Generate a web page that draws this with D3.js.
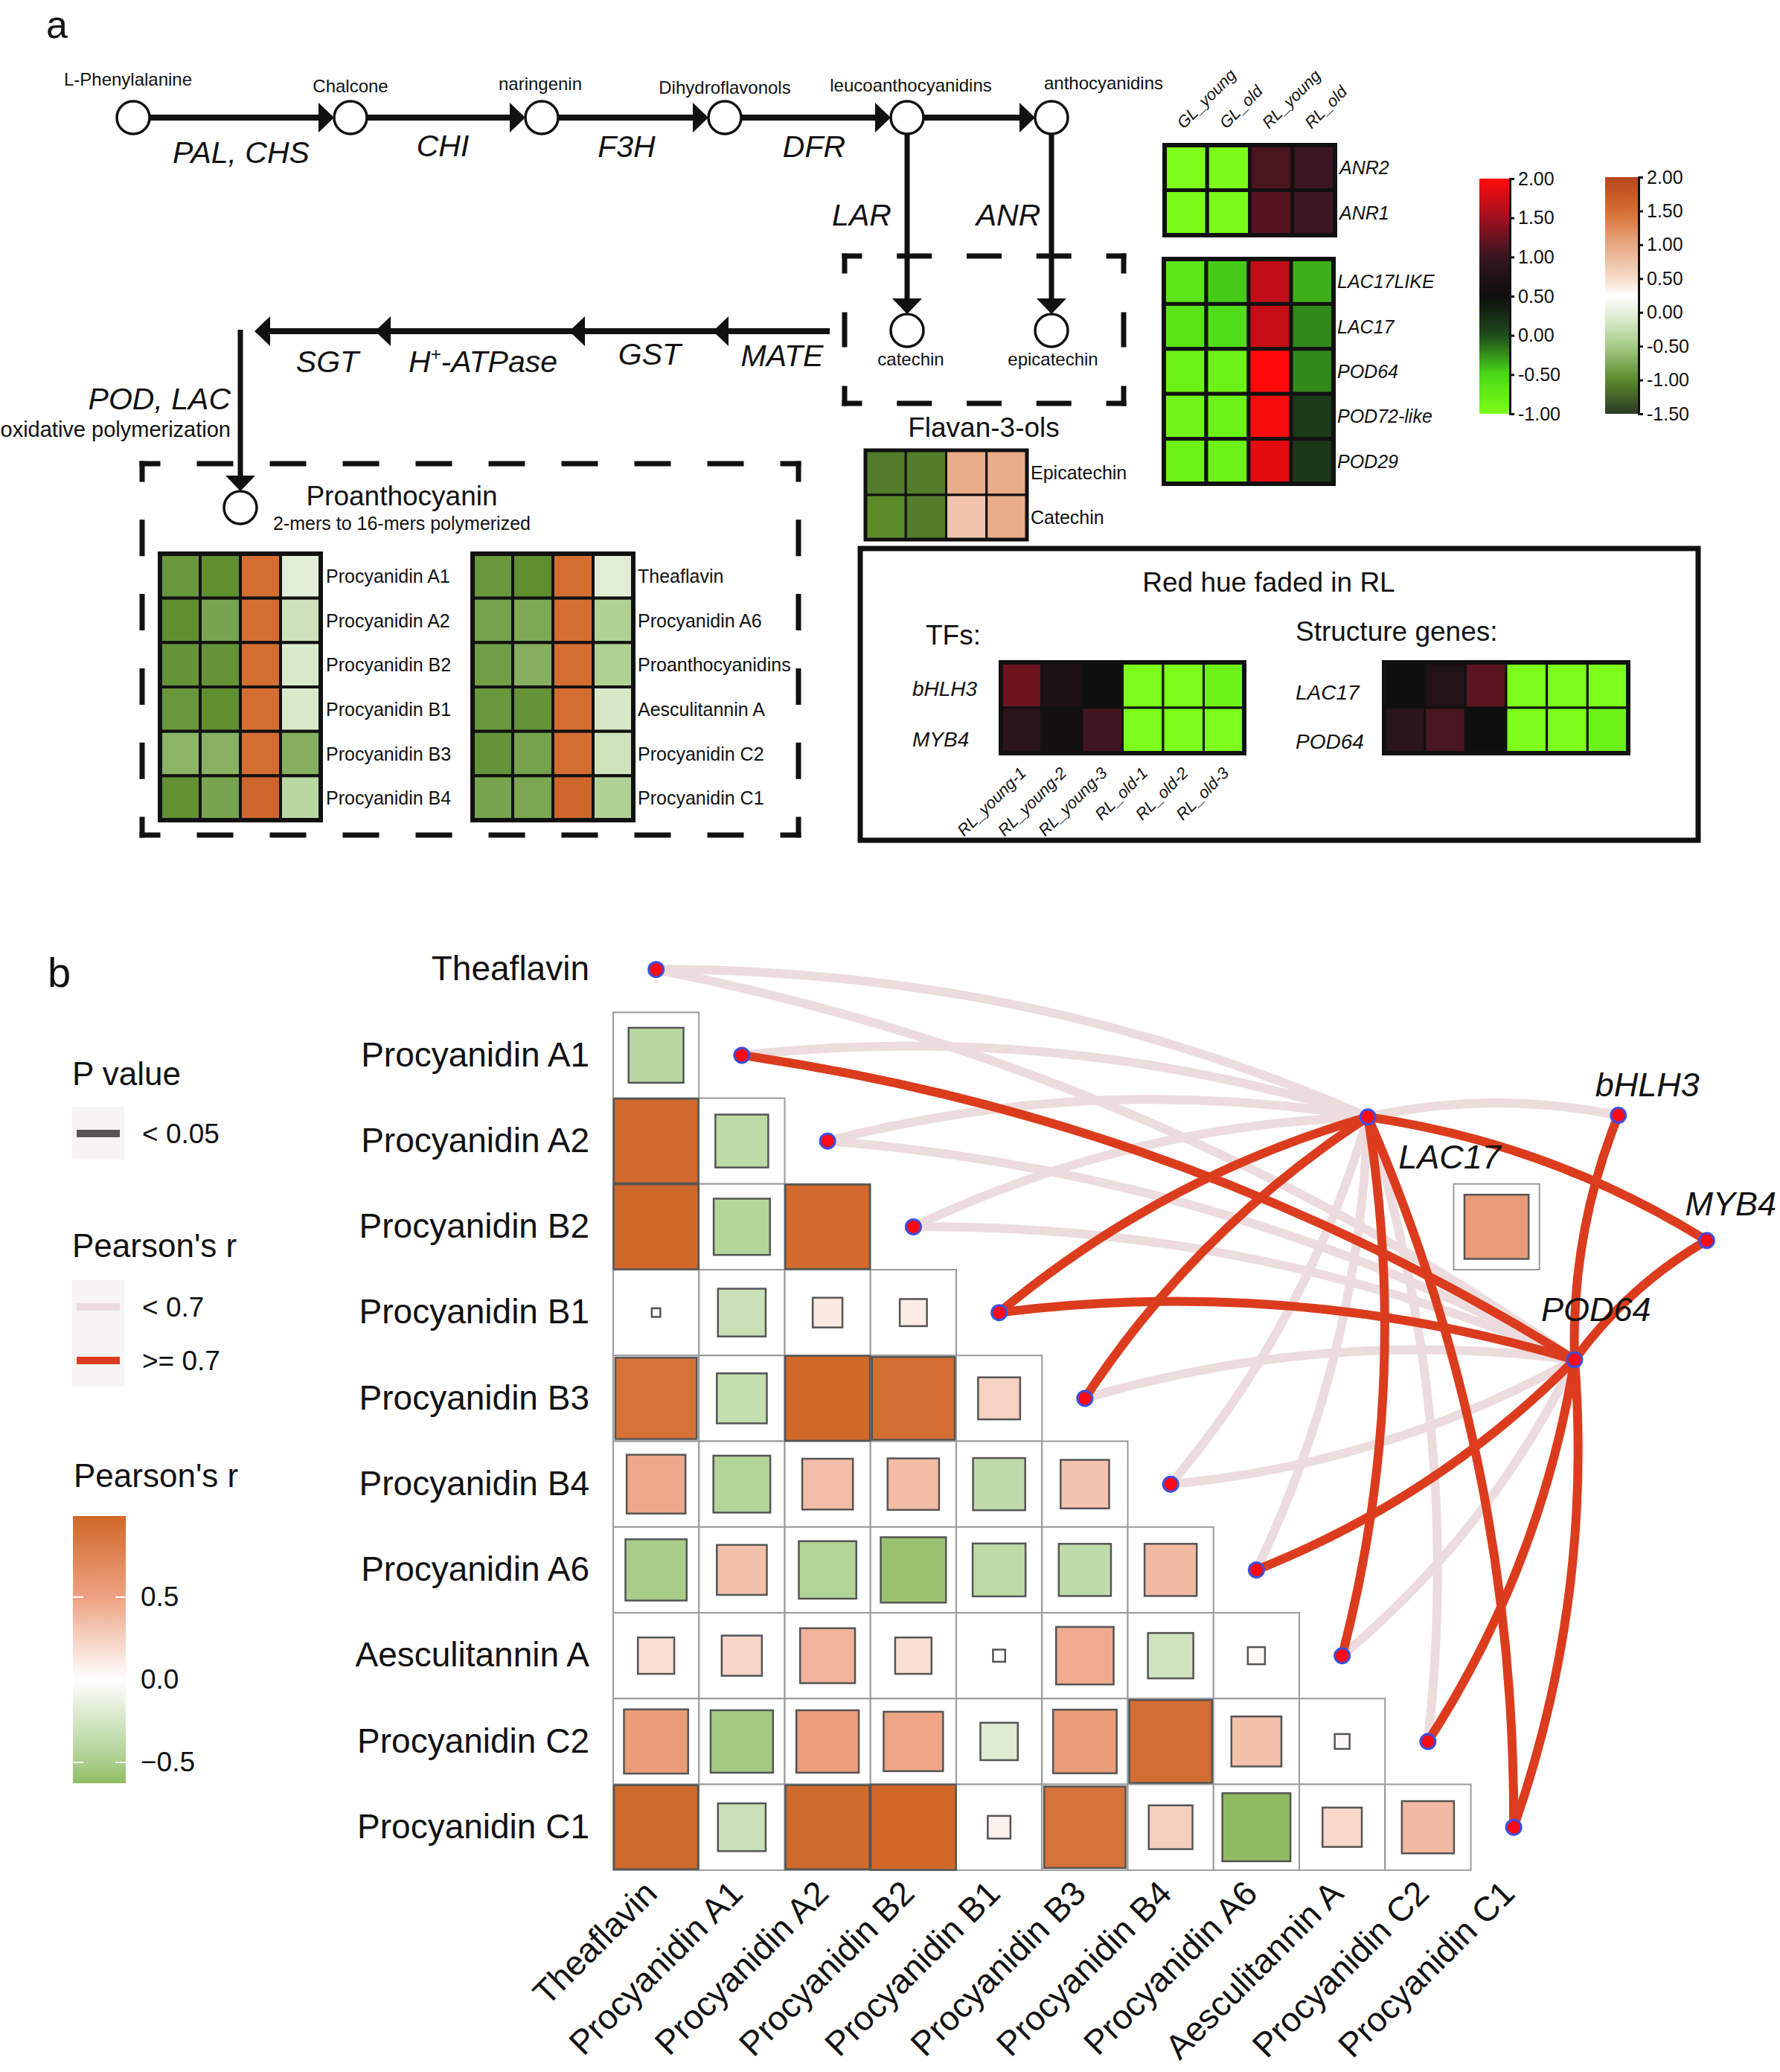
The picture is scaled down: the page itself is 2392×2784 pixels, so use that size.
<!DOCTYPE html>
<html><head><meta charset="utf-8">
<script src="https://cdn.jsdelivr.net/npm/d3@7"></script>
<style>body{margin:0;background:#fff}</style>
</head><body>
<script>
// ================= DATA =================
// --- panel a: pathway ---
const pathwayNodes = ["L-Phenylalanine","Chalcone","naringenin","Dihydroflavonols","leucoanthocyanidins","anthocyanidins"];
const pathwayEnzymes = ["PAL, CHS","CHI","F3H","DFR"];
const branchEnzymes = ["LAR","ANR"];
const flavanolNodes = ["catechin","epicatechin"];
const transportEnzymes = ["SGT","H+-ATPase","GST","MATE"];
const sampleCols = ["GL_young","GL_old","RL_young","RL_old"];
const anrGenes = ["ANR2","ANR1"];
const anrValues = [[-1.0,-0.98,1.10,1.02],[-0.98,-0.98,1.15,1.03]];
const podGenes = ["LAC17LIKE","LAC17","POD64","POD72-like","POD29"];
const podValues = [[-0.68,-0.45,1.67,-0.35],[-0.65,-0.55,1.70,-0.22],[-0.85,-0.85,2.0,-0.22],[-0.88,-0.85,1.95,0.13],[-0.85,-0.85,1.85,0.15]];
const flavanNames = ["Epicatechin","Catechin"];
const flavanValues = [[-1.10,-1.08,0.95,0.95],[-1.0,-1.08,0.72,0.95]];
const proLeftNames = ["Procyanidin A1","Procyanidin A2","Procyanidin B2","Procyanidin B1","Procyanidin B3","Procyanidin B4"];
const proLeftValues = [[-0.90,-0.97,1.5,-0.04],[-0.97,-0.80,1.5,-0.20],[-0.93,-0.93,1.5,-0.10],[-0.90,-0.97,1.5,-0.10],[-0.68,-0.70,1.5,-0.72],[-0.95,-0.80,1.6,-0.35]];
const proRightNames = ["Theaflavin","Procyanidin A6","Proanthocyanidins","Aesculitannin A","Procyanidin C2","Procyanidin C1"];
const proRightValues = [[-0.90,-0.97,1.5,-0.04],[-0.82,-0.76,1.5,-0.42],[-0.85,-0.72,1.5,-0.43],[-0.90,-0.93,1.5,-0.12],[-0.93,-0.82,1.5,-0.18],[-0.80,-0.78,1.6,-0.42]];
const rlSamples = ["RL_young-1","RL_young-2","RL_young-3","RL_old-1","RL_old-2","RL_old-3"];
const tfGenes = ["bHLH3","MYB4"];
const tfValues = [[1.26,0.70,0.50,-1,-1,-0.85],[0.87,0.57,1.05,-1,-1,-1]];
const structGenes = ["LAC17","POD64"];
const structValues = [[0.50,0.72,1.17,-1,-1,-1],[0.87,1.09,0.50,-1,-1,-0.85]];
const rgTicks = [2,1.5,1,0.5,0,-0.5,-1];
const ogTicks = [2,1.5,1,0.5,0,-0.5,-1,-1.5];

// --- panel b: correlation ---
const metabolites = ["Theaflavin","Procyanidin A1","Procyanidin A2","Procyanidin B2","Procyanidin B1","Procyanidin B3","Procyanidin B4","Procyanidin A6","Aesculitannin A","Procyanidin C2","Procyanidin C1"];
const corrLower = [
  [],
  [-0.41],
  [0.97,-0.38],
  [0.98,-0.43,0.97],
  [0.01,-0.31,0.12,0.10],
  [0.90,-0.34,0.98,0.93,0.24],
  [0.47,-0.44,0.35,0.36,-0.37,0.32],
  [-0.51,0.34,-0.45,-0.58,-0.38,-0.37,0.37],
  [0.18,0.22,0.41,0.18,0.02,0.45,-0.28,0.04],
  [0.56,-0.53,0.53,0.48,-0.19,0.55,0.93,0.34,0.03],
  [0.96,-0.31,0.96,0.99,0.07,0.90,0.26,-0.63,0.21,0.37]
];
const genes = ["LAC17","POD64"];
const lac17R = [0.45,0.50,0.40,0.45,0.82,0.78,0.50,0.55,0.80,0.60,0.85];
const pod64R = [0.50,0.80,0.45,0.50,0.85,0.60,0.50,0.78,0.60,0.82,0.88];
const tfNodes = ["bHLH3","MYB4"];
const tfLinks = [["bHLH3","LAC17",0.55],["MYB4","LAC17",0.80],["bHLH3","POD64",0.82],["MYB4","POD64",0.85]];
const lac17Pod64R = 0.56;
const corrTicks = [0.5,0,-0.5];
const corrRange = [-0.626,0.99];
const edgeClasses = ["< 0.7",">= 0.7"];
const pLabels = ["< 0.05"];

// ================= LAYOUT (positions only) =================
const LY = {
  topY:158, topX:[179,471,728,974,1219,1413], nodeLblX:[172,471,726,974,1224,1483], nodeLblY:[115,124,121,126,123,120],
  enzX:[324,595,842,1094], enzY:[219,210,211,211],
  branchX:[1219,1413], branchLblX:[1158,1355], catY:444,
  botY:445, botTips:[342,504,765,958], botRight:1115, botLblX:[440,649,873,1051], botLblY:[500,500,490,492],
  vertX:323, procY:682
};
const F = '"Liberation Sans", Arial, Helvetica, sans-serif';

// ================= SCALES =================
const rgScale = d3.scaleLinear().domain([-1,-0.5,0,0.5,1,1.5,2])
  .range(["#7cfc18","#4ada18","#1f4a1c","#0e0e0e","#361620","#a01020","#ff0a0a"]).clamp(true);
const ogScale = d3.scaleLinear().domain([-1.5,-1,-0.5,0,0.25,0.5,1,1.5,2])
  .range(["#2c3a28","#5a8a2a","#a6cc86","#e6f1dc","#ffffff","#f6dccb","#e8a882","#d46e30","#b8461e"]).clamp(true);
const corrScale = d3.scaleLinear().domain([-0.63,-0.5,0,0.5,1])
  .range(["#8fbb60","#a9cf8b","#ffffff","#eea282","#cf6626"]).clamp(true);

// ================= SVG =================
const svg = d3.select("body").append("svg").attr("width",2392).attr("height",2784).style("display","block");
svg.append("rect").attr("width",2392).attr("height",2784).attr("fill","#fff");
const defs = svg.append("defs");

function T(g,x,y,s,o={}){
  return g.append("text").attr("x",x).attr("y",y).text(s)
    .attr("font-family",F).attr("font-size",o.size||25)
    .attr("font-style",o.it?"italic":"normal")
    .attr("text-anchor",o.a||"start").attr("fill",o.fill||"#111");
}
function circle(g,x,y,r){ g.append("circle").attr("cx",x).attr("cy",y).attr("r",r).attr("fill","#fff").attr("stroke","#111").attr("stroke-width",3.5); }
function head(g,tipX,tipY,dir){
  const l=21,h=20; let p;
  if(dir==="r") p=`M${tipX},${tipY}L${tipX-l},${tipY-h}L${tipX-l},${tipY+h}Z`;
  if(dir==="l") p=`M${tipX},${tipY}L${tipX+l},${tipY-h}L${tipX+l},${tipY+h}Z`;
  if(dir==="d") p=`M${tipX},${tipY}L${tipX-h},${tipY-l}L${tipX+h},${tipY-l}Z`;
  g.append("path").attr("d",p).attr("fill","#111");
}
function line(g,x1,y1,x2,y2,w){ g.append("line").attr("x1",x1).attr("y1",y1).attr("x2",x2).attr("y2",y2).attr("stroke","#111").attr("stroke-width",w); }
function dashedBox(g,x0,y0,x1,y1,period,dash,sw){
  [[x0,y0,x1,y0],[x1,y0,x1,y1],[x1,y1,x0,y1],[x0,y1,x0,y0]].forEach(([a,b,c,d])=>{
    const L=Math.hypot(c-a,d-b), k=Math.max(1,Math.round(L/period)), p=L/k;
    g.append("line").attr("x1",a).attr("y1",b).attr("x2",c).attr("y2",d)
      .attr("stroke","#111").attr("stroke-width",sw).attr("stroke-linecap","square")
      .attr("stroke-dasharray",`${dash} ${p-dash}`).attr("stroke-dashoffset",dash/2);
  });
}
function heat(g,x0,y0,w,h,values,scale,sw,osw){
  const nr=values.length,nc=values[0].length;
  const xs=d3.scaleBand().domain(d3.range(nc)).range([x0,x0+w]);
  const ys=d3.scaleBand().domain(d3.range(nr)).range([y0,y0+h]);
  const cells=values.flatMap((row,i)=>row.map((v,j)=>({i,j,v})));
  g.append("g").selectAll("rect").data(cells).join("rect")
    .attr("x",d=>xs(d.j)).attr("y",d=>ys(d.i)).attr("width",xs.bandwidth()).attr("height",ys.bandwidth())
    .attr("fill",d=>scale(d.v)).attr("stroke","#111").attr("stroke-width",sw);
  g.append("rect").attr("x",x0).attr("y",y0).attr("width",w).attr("height",h).attr("fill","none").attr("stroke","#111").attr("stroke-width",osw);
  return {xs,ys};
}
function rowLabels(g,ys,names,x,o={}){
  names.forEach((n,i)=>T(g,x,ys(i)+ys.bandwidth()/2+(o.dy||9),n,{size:o.size||25,it:o.it,a:o.a}));
}
function gradient(id,scale,lo,hi){
  const gr=defs.append("linearGradient").attr("id",id).attr("x1",0).attr("y1",1).attr("x2",0).attr("y2",0);
  d3.range(41).forEach(k=>{const v=lo+(hi-lo)*k/40; gr.append("stop").attr("offset",k/40).attr("stop-color",scale(v));});
}

// ================= PANEL a =================
const A = svg.append("g");
T(A,62,51,"a",{size:52});

// top pathway
LY.topX.forEach((x,i)=>{
  if(i<LY.topX.length-1){
    const xn=LY.topX[i+1];
    line(A,x+22,LY.topY,xn-22-18,LY.topY,8);
    head(A,xn-22,LY.topY,"r");
  }
});
LY.topX.forEach(x=>circle(A,x,LY.topY,22));
pathwayNodes.forEach((n,i)=>T(A,LY.nodeLblX[i],LY.nodeLblY[i],n,{size:24,a:"middle"}));
pathwayEnzymes.forEach((n,i)=>T(A,LY.enzX[i],LY.enzY[i],n,{size:41,it:true,a:"middle"}));

// branches to catechin / epicatechin
dashedBox(A,1135,344,1510,542,95,40,7);
LY.branchX.forEach((x,i)=>{
  line(A,x,LY.topY+22,x,LY.catY-22-18,7);
  head(A,x,LY.catY-22,"d");
  circle(A,x,LY.catY,22);
  T(A,LY.branchLblX[i],303,branchEnzymes[i],{size:41,it:true,a:"middle"});
});
flavanolNodes.forEach((n,i)=>T(A,[1224,1415][i],491,n,{size:24,a:"middle"}));
T(A,1322,587,"Flavan-3-ols",{size:37,a:"middle"});
{
  const h=heat(A,1163,605,217,120,flavanValues,ogScale,3,5);
  rowLabels(A,h.ys,flavanNames,1385);
}

// bottom transport row
line(A,LY.botRight,LY.botY,LY.botTips[0]+18,LY.botY,8);
LY.botTips.forEach(t=>head(A,t,LY.botY,"l"));
transportEnzymes.forEach((n,i)=>{
  const t=A.append("text").attr("x",LY.botLblX[i]).attr("y",LY.botLblY[i]).attr("font-family",F).attr("font-size",41)
    .attr("font-style","italic").attr("text-anchor","middle").attr("fill","#111");
  const parts=n.split("+");
  if(parts.length>1){
    t.append("tspan").text(parts[0]);
    t.append("tspan").text("+").attr("font-size",24).attr("dy",-16);
    t.append("tspan").text(parts[1]).attr("dy",16);
  } else t.text(n);
});
line(A,LY.vertX,443,LY.vertX,LY.procY-22-18,7);
head(A,LY.vertX,LY.procY-22,"d");
T(A,310,550,"POD, LAC",{size:41,it:true,a:"end"});
T(A,310,587,"oxidative polymerization",{size:29,a:"end"});

// proanthocyanin box
dashedBox(A,191,623,1073,1122,99,42,7);
circle(A,LY.vertX,LY.procY,22);
T(A,540,679,"Proanthocyanin",{size:37,a:"middle"});
T(A,540,712,"2-mers to 16-mers polymerized",{size:25,a:"middle"});
{
  const h1=heat(A,215,744,216,358,proLeftValues,ogScale,4,6);
  rowLabels(A,h1.ys,proLeftNames,438);
  const h2=heat(A,635,744,216,358,proRightValues,ogScale,4,6);
  rowLabels(A,h2.ys,proRightNames,857);
}

// gene heatmaps
{
  const h=heat(A,1565,195,229,121,anrValues,rgScale,5,6);
  rowLabels(A,h.ys,anrGenes,1800,{it:true});
  sampleCols.forEach((s,j)=>{
    const x=h.xs(j)+h.xs.bandwidth()/2-3;
    A.append("text").attr("transform",`translate(${x},174) rotate(-45)`).text(s)
      .attr("font-family",F).attr("font-size",22).attr("font-style","italic").attr("fill","#111");
  });
  const h2=heat(A,1564,348,228,302,podValues,rgScale,5,6);
  rowLabels(A,h2.ys,podGenes,1797,{it:true});
}

// colour bars
function colorbar(g,id,x,w,y0,y1,ticks,scale){
  const lo=d3.min(ticks),hi=d3.max(ticks);
  gradient(id,scale,lo,hi);
  g.append("rect").attr("x",x).attr("y",y0).attr("width",w).attr("height",y1-y0).attr("fill",`url(#${id})`);
  const ys=d3.scaleLinear().domain([lo,hi]).range([y1,y0]);
  const ax=g.append("g").attr("transform",`translate(${x+w},0)`)
    .call(d3.axisRight(ys).tickValues(ticks).tickSize(6).tickPadding(5).tickFormat(d=>d.toFixed(2)));
  ax.select(".domain").attr("stroke","#111").attr("stroke-width",3);
  ax.selectAll(".tick line").attr("stroke","#111").attr("stroke-width",3);
  ax.selectAll("text").attr("font-family",F).attr("font-size",25).attr("fill","#111");
}
colorbar(A,"rg",1988,41,240,556,rgTicks,rgScale);
colorbar(A,"og",2157,45,238,556,ogTicks,ogScale);

// Red hue box
A.append("rect").attr("x",1156).attr("y",737).attr("width",1126).attr("height",392).attr("fill","none").attr("stroke","#111").attr("stroke-width",7);
T(A,1705,795,"Red hue faded in RL",{size:37,a:"middle"});
T(A,1244,866,"TFs:",{size:37});
T(A,1741,861,"Structure genes:",{size:37});
{
  const h=heat(A,1345,890,327,122,tfValues,rgScale,3,6);
  tfGenes.forEach((n,i)=>T(A,1226,[935,1003][i],n,{size:28,it:true}));
  rlSamples.forEach((s,j)=>{
    const x=h.xs(j)+h.xs.bandwidth()/2+8;
    A.append("text").attr("transform",`translate(${x},1040) rotate(-45)`).text(s)
      .attr("font-family",F).attr("font-size",22).attr("font-style","italic").attr("text-anchor","end").attr("fill","#111");
  });
  heat(A,1860,890,328,122,structValues,rgScale,3,6);
  structGenes.forEach((n,i)=>T(A,1741,[940,1006][i],n,{size:28,it:true}));
}

// ================= PANEL b =================
const B = svg.append("g");
T(B,64,1326,"b",{size:56});

const cell=115.25, gx0=824, gy0=1245;
const xBand=d3.scaleBand().domain(metabolites).range([gx0,gx0+11*cell]);
const yBand=d3.scaleBand().domain(metabolites).range([gy0,gy0+11*cell]);
const gx=d3.scaleLinear().domain([0,11]).range([gx0,gx0+11*cell]);
const gy=d3.scaleLinear().domain([0,11]).range([gy0,gy0+11*cell]);
const bw=xBand.bandwidth();

// matrix cells
const cells=corrLower.flatMap((row,i)=>row.map((r,j)=>({row:metabolites[i],col:metabolites[j],r})));
const cg=B.append("g");
cg.selectAll("rect.frame").data(cells).join("rect").attr("class","frame")
  .attr("x",d=>xBand(d.col)).attr("y",d=>yBand(d.row)).attr("width",bw).attr("height",bw)
  .attr("fill","#fff").attr("stroke","#9a9a9a").attr("stroke-width",2);
cg.selectAll("rect.sq").data(cells).join("rect").attr("class","sq")
  .each(function(d){
    const s=bw*Math.sqrt(Math.abs(d.r));
    d3.select(this).attr("x",xBand(d.col)+(bw-s)/2).attr("y",yBand(d.row)+(bw-s)/2).attr("width",s).attr("height",s);
  })
  .attr("fill",d=>corrScale(d.r)).attr("stroke","#555").attr("stroke-width",2.5);

// axes
const axL=B.append("g").attr("transform",`translate(${gx0},0)`).call(d3.axisLeft(yBand).tickSize(0).tickPadding(32));
axL.select(".domain").remove();
axL.selectAll("text").attr("font-family",F).attr("font-size",46).attr("fill","#111");
const axB=B.append("g").attr("transform",`translate(0,${gy0+11*cell})`).call(d3.axisBottom(xBand).tickSize(0));
axB.select(".domain").remove();
axB.selectAll("text").attr("font-family",F).attr("font-size",46).attr("fill","#111")
  .attr("x",0).attr("y",0).attr("dy",0).attr("text-anchor","end")
  .attr("transform","translate(4,34) rotate(-45)");

// network
const nodeGrid={LAC17:[8.80,2.22],POD64:[11.21,5.05],bHLH3:[11.72,2.20],MYB4:[12.75,3.66]};
const labelOff={LAC17:[41,69],POD64:[-45,-52],bHLH3:[-31,-26],MYB4:[-29,-34]};
const pos=n=>[gx(nodeGrid[n][0]),gy(nodeGrid[n][1])];
const metPos=i=>[xBand(metabolites[i])+bw/2,yBand(metabolites[i])+bw/2];
function curve(a,b,sign){
  const dx=b[0]-a[0],dy=b[1]-a[1], k=0.105;
  const cx=(a[0]+b[0])/2+sign*k*dy, cy=(a[1]+b[1])/2-sign*k*dx;
  return `M${a[0]},${a[1]}Q${cx},${cy} ${b[0]},${b[1]}`;
}
const edges=[];
[lac17R,pod64R].forEach((arr,gi)=>arr.forEach((r,i)=>edges.push({a:pos(genes[gi]),b:metPos(i),r,sign:i<=5?-1:1})));
tfLinks.forEach(([t,g,r])=>edges.push({a:pos(t),b:pos(g),r,sign:-1}));
const edgeColor=r=>r>=0.7?"#dc3c1e":"#eddcdd";
const eg=B.append("g");
eg.selectAll("path").data(edges.slice().sort((p,q)=>(p.r>=0.7)-(q.r>=0.7))).join("path")
  .attr("d",d=>curve(d.a,d.b,d.sign)).attr("fill","none").attr("stroke",d=>edgeColor(d.r)).attr("stroke-width",12);

// LAC17-POD64 mini cell
{
  const x=gx(9.8),y=gy(3.0),s=bw*Math.sqrt(lac17Pod64R);
  B.append("rect").attr("x",x).attr("y",y).attr("width",bw).attr("height",bw).attr("fill","#fff").attr("stroke","#9a9a9a").attr("stroke-width",2);
  B.append("rect").attr("x",x+(bw-s)/2).attr("y",y+(bw-s)/2).attr("width",s).attr("height",s).attr("fill",corrScale(lac17Pod64R)).attr("stroke","#555").attr("stroke-width",2.5);
}
// dots
const dots=metabolites.map((m,i)=>metPos(i)).concat(genes.concat(tfNodes).map(pos));
B.append("g").selectAll("circle").data(dots).join("circle").attr("cx",d=>d[0]).attr("cy",d=>d[1]).attr("r",10)
  .attr("fill","#ff0a14").attr("stroke","#3b4fe0").attr("stroke-width",3);
genes.concat(tfNodes).forEach(n=>{const p=pos(n);T(B,p[0]+labelOff[n][0],p[1]+labelOff[n][1],n,{size:45,it:true});});

// legends
T(B,97,1458,"P value",{size:44});
B.append("rect").attr("x",97).attr("y",1487).attr("width",70).attr("height",71).attr("fill","#f7f5f3");
B.append("line").attr("x1",103).attr("x2",161).attr("y1",1523).attr("y2",1523).attr("stroke","#595555").attr("stroke-width",10);
pLabels.forEach(l=>T(B,191,1536,l,{size:37}));

T(B,97,1689,"Pearson's r",{size:44});
B.append("rect").attr("x",97).attr("y",1720).attr("width",70).attr("height",143).attr("fill","#f7f5f3");
edgeClasses.forEach((l,k)=>{
  const y=[1756,1828][k];
  B.append("line").attr("x1",103).attr("x2",161).attr("y1",y).attr("y2",y).attr("stroke",edgeColor(k?0.8:0.5)).attr("stroke-width",10);
  T(B,191,y+13,l,{size:37});
});

T(B,99,1998,"Pearson's r",{size:44});
{
  gradient("corr",corrScale,corrRange[0],corrRange[1]);
  const y0=2037,y1=2396,x=98,w=71;
  B.append("rect").attr("x",x).attr("y",y0).attr("width",w).attr("height",y1-y0).attr("fill","url(#corr)");
  const ys=d3.scaleLinear().domain(corrRange).range([y1,y0]);
  corrTicks.forEach(v=>{
    B.append("line").attr("x1",x).attr("x2",x+14).attr("y1",ys(v)).attr("y2",ys(v)).attr("stroke","#fff").attr("stroke-width",2);
    B.append("line").attr("x1",x+w-14).attr("x2",x+w).attr("y1",ys(v)).attr("y2",ys(v)).attr("stroke","#fff").attr("stroke-width",2);
  });
  const ax=B.append("g").attr("transform",`translate(${x+w},0)`).call(d3.axisRight(ys).tickValues(corrTicks).tickSize(0).tickPadding(20).tickFormat(d3.format(".1f")));
  ax.select(".domain").remove();
  ax.selectAll("text").attr("font-family",F).attr("font-size",37).attr("fill","#111");
}
</script>
</body></html>
